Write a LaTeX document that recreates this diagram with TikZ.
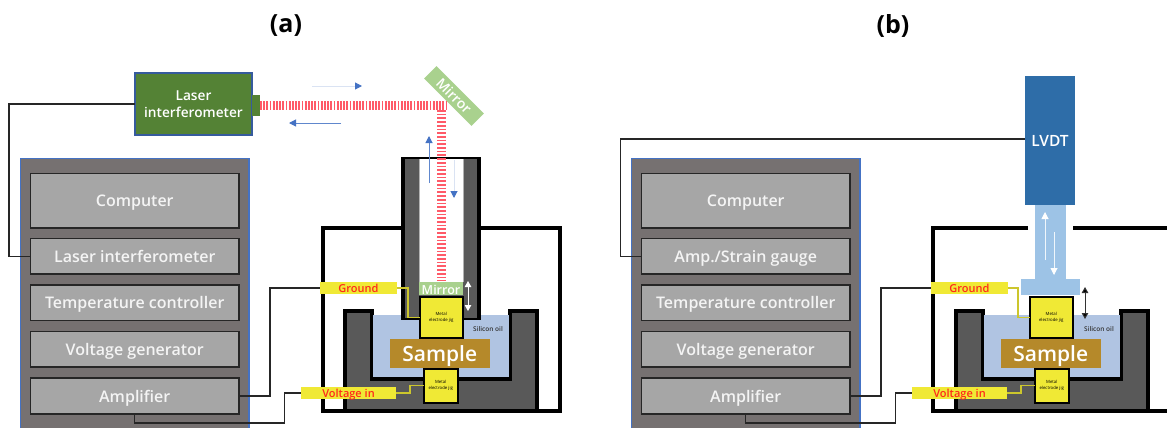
\documentclass[tikz,border=0pt]{standalone}
\usepackage{fontspec}
\setmainfont{Open Sans}[BoldFont={Open Sans Semibold}]
\newfontfamily\titlefont{Open Sans Bold}
\usetikzlibrary{arrows.meta,calc}
\definecolor{panelgray}{HTML}{767171}
\definecolor{unitgray}{HTML}{A6A6A6}
\definecolor{bathgray}{HTML}{595959}
\definecolor{edgeblue}{HTML}{4472C4}
\definecolor{lasergreen}{HTML}{548235}
\definecolor{mirrorgreen}{HTML}{A9D18E}
\definecolor{jigyellow}{HTML}{F0E935}
\definecolor{oilblue}{HTML}{B0C4E2}
\definecolor{samplegold}{HTML}{B5892A}
\definecolor{lvdtblue}{HTML}{2E6DA8}
\definecolor{shaftblue}{HTML}{9DC3E6}
\definecolor{paleblue}{HTML}{DAE3F3}
\definecolor{beamred}{HTML}{FF5A68}
\definecolor{labelred}{HTML}{FF2A1A}
\definecolor{textwhite}{HTML}{F4F4F4}
\tikzset{
  bare/.style={inner sep=0pt,outer sep=0pt},
  panel/.style={bare,fill=panelgray,draw=edgeblue,line width=1.3pt},
  unit/.style={bare,fill=unitgray,draw=black!85,line width=1.3pt,text=textwhite,text height=13pt,text depth=1pt,font=\fontsize{16}{18}\selectfont\bfseries},
  laserbox/.style={bare,fill=lasergreen,draw=edgeblue!80!black,line width=1.2pt,text=white,align=center,font=\fontsize{13.7}{16.5}\selectfont\bfseries},
  plain/.style={bare,fill=#1},
  tag/.style={bare,fill=jigyellow,text=labelred,text height=9pt,text depth=0pt,font=\fontsize{11}{12}\selectfont\bfseries},
  jig/.style={bare,fill=jigyellow,draw=black,line width=2pt,align=center,text=black,font=\fontsize{4.3}{6}\selectfont},
  samplebox/.style={bare,fill=samplegold,text=white,text height=17pt,text depth=1pt,font=\fontsize{21}{26}\selectfont\bfseries},
  mirrortext/.style={bare,fill=mirrorgreen,text=white,text height=11pt,text depth=0pt,font=\fontsize{12.5}{14}\selectfont\bfseries},
  wire/.style={draw=black!85,line width=1.3pt},
  yellowwire/.style={draw=jigyellow!85!black,line width=1.2pt},
  wall/.style={draw=black,line width=4pt},
  beam/.style={beamred,line width=9pt},
  bluetip/.style={line width=1pt,-{Triangle[length=7pt,width=7pt,color=edgeblue,fill=edgeblue]}},
  whitetip/.style={line width=1pt,-{Triangle[length=7pt,width=7pt,color=white,fill=white]}},
  oiltext/.style={bare,text=black!80,font=\fontsize{6.5}{8}\selectfont\bfseries},
  title/.style={bare,text=black,font=\fontsize{25}{28}\selectfont\titlefont},
}
\newcommand\pxbox[7]{%
  \pgfmathsetmacro\pxcx{(#3+#5)/2}%
  \pgfmathsetmacro\pxcy{(#4+#6)/2}%
  \pgfmathsetmacro\pxw{#5-#3}%
  \pgfmathsetmacro\pxh{#6-#4}%
  \node[#2,minimum width=\pxw pt,minimum height=\pxh pt] (#1) at (\pxcx,\pxcy) {#7};%
}
\newcommand\control[2]{% prefix, second label ; x offset in scope
  \pxbox{#1panel}{panel}{20.5}{158.5}{249}{440}{}
  \pxbox{#1comp}{unit}{30.5}{173.5}{239}{228}{Computer}
  \pxbox{#1sense}{unit}{30.5}{238.5}{239}{274}{#2}
  \pxbox{#1temp}{unit}{30.5}{285}{239}{320.5}{Temperature controller}
  \pxbox{#1volt}{unit}{30.5}{331.5}{239}{367}{Voltage generator}
  \pxbox{#1amp}{unit}{30.5}{378}{239}{414}{Amplifier}
}
\newcommand\cell[1]{% prefix: bath, oil, sample, lower jig, tags
  \draw[wall,fill=bathgray,line join=miter] (345,310.5) -- (371.5,310.5) -- (371.5,378.5) -- (510,378.5) -- (510,310.5) -- (536.5,310.5) -- (536.5,410.5) -- (345,410.5) -- cycle;
  \fill[oilblue] (373,315) rectangle (508.5,377);
}
\newcommand\cellfront[1]{%
  \pxbox{#1sample}{samplebox}{390}{339}{489.5}{368}{Sample}
  \pxbox{#1low}{jig}{424}{369}{457.5}{402.5}{Metal\\electrode jig}
  \pxbox{#1ground}{tag}{320}{282}{397}{294}{Ground}
  \pxbox{#1vin}{tag}{301}{387}{396}{399}{Voltage in}
  \node[oiltext] (#1oil) at (488,329) {Silicon oil};
}
\begin{document}
\begin{tikzpicture}[x=1pt,y=-1pt]
\clip (0,0) rectangle (1167,428);
\fill[white] (0,0) rectangle (1167,428);
\node[title] (ta) at (286,26) {(a)};
\node[title] (tb) at (893,26) {(b)};

% ---------- panel (a) ----------
\control{a}{Laser interferometer}
\draw[wall] (323,228) -- (559.5,228) -- (559.5,410.5) -- (323,410.5) -- cycle;
\cell{a}
% tube
\fill[black] (401,157) rectangle (481,320);
\fill[bathgray] (405,159) rectangle (477,318);
\fill[white] (419,159) rectangle (463,282);
\draw[black!30,line width=.6pt] (419,159) -- (419,282) (463,159) -- (463,282);
\pxbox{alaser}{laserbox}{135}{73}{252}{135}{Laser\\interferometer}
\pxbox{anub}{plain=lasergreen}{252}{95}{260}{116}{}
\node[bare,fill=mirrorgreen,minimum width=67pt,minimum height=17.5pt,rotate=-45,text=white,font=\fontsize{14}{15}\selectfont\bfseries] (amirror) at (454,96) {Mirror};
\coordinate (abend) at (446,105.5);
\coordinate (abeamend) at (441.5,281);
\draw[beam,dash pattern=on 1.7pt off 1.5pt] (anub.east) -- (abend);
\draw[beam,dash pattern=on 1.7pt off 2pt] (441.5,110) -- (abeamend);
\pxbox{atopmirror}{mirrortext}{419}{282}{463}{295}{Mirror}
\pxbox{aup}{jig}{420}{297}{462.5}{337.5}{Metal\\electrode jig}
\cellfront{a}
% beam direction arrows
\coordinate (a1s) at (312,86); \coordinate (a1e) at (362,86);
\coordinate (a2s) at (341,123); \coordinate (a2e) at (289,123);
\coordinate (a3s) at (429,183); \coordinate (a3e) at (429,136);
\coordinate (a4s) at (454,160); \coordinate (a4e) at (454,198);
\draw[bluetip,draw=paleblue] (a1s) -- (a1e);
\draw[bluetip,draw=edgeblue!85] (a2s) -- (a2e);
\draw[bluetip,draw=edgeblue!85] (a3s) -- (a3e);
\draw[bluetip,draw=paleblue] (a4s) -- (a4e);
\coordinate (am1) at (468,281); \coordinate (am2) at (468,311);
\draw[line width=1pt,white,{Triangle[length=6pt,width=6.5pt]}-{Triangle[length=6pt,width=6.5pt]}] (am1) -- (am2);
% wires
\draw[wire] (alaser.west) -- ++(-126,0) |- (asense.west);
\draw[wire] (aamp.east) -- ++(31,0) |- (aground.west);
\draw[wire] (aamp.south) -- ++(0,9) -- ++(150,0) |- (avin.west);
\draw[yellowwire] (aground.east) -- ++(11,0) |- (aup.west);
\draw[yellowwire] (avin.east) -- ++(14,0) |- ($(alow.west)+(0,-.3)$);

% ---------- panel (b) ----------
\begin{scope}[xshift=611pt]
\control{b}{Amp./Strain gauge}
\draw[wall] (417,228) -- (322,228) -- (322,410.5) -- (600,410.5);
\draw[wall] (462,228) -- (600,228);
\cell{b}
\pxbox{bshaft}{plain=shaftblue}{424}{200}{455}{282}{}
\pxbox{bflange}{plain=shaftblue}{410}{279}{469}{295}{}
\pxbox{blvdt}{plain=lvdtblue,text=white,font=\fontsize{15.5}{18}\selectfont\bfseries}{414}{76}{464}{205}{LVDT}
\pxbox{bup}{jig}{419}{297}{461.5}{337.5}{Metal\\electrode jig}
\cellfront{b}
\coordinate (b1s) at (434,260); \coordinate (b1e) at (434,212);
\coordinate (b2s) at (443,232); \coordinate (b2e) at (443,275);
\coordinate (bm1) at (474,287); \coordinate (bm2) at (474,319);
\draw[whitetip,draw=white!85!shaftblue] (b1s) -- (b1e);
\draw[whitetip,draw=white!85!shaftblue] (b2s) -- (b2e);
\draw[line width=1pt,black!80,{Triangle[length=6pt,width=6.5pt,fill=black]}-{Triangle[length=6pt,width=6.5pt,fill=black]}] (bm1) -- (bm2);
\draw[wire] (bsense.west) -- ++(-21,0) |- ($(blvdt.west)+(0,-1.5)$);
\draw[wire] (bamp.east) -- ++(31,0) |- (bground.west);
\draw[wire] (bamp.south) -- ++(0,9) -- ++(150,0) |- (bvin.west);
\draw[yellowwire] (bground.east) -- ++(10,0) |- (bup.west);
\draw[yellowwire] (bvin.east) -- ++(14,0) |- ($(blow.west)+(0,-.3)$);
\end{scope}
\end{tikzpicture}
\end{document}
